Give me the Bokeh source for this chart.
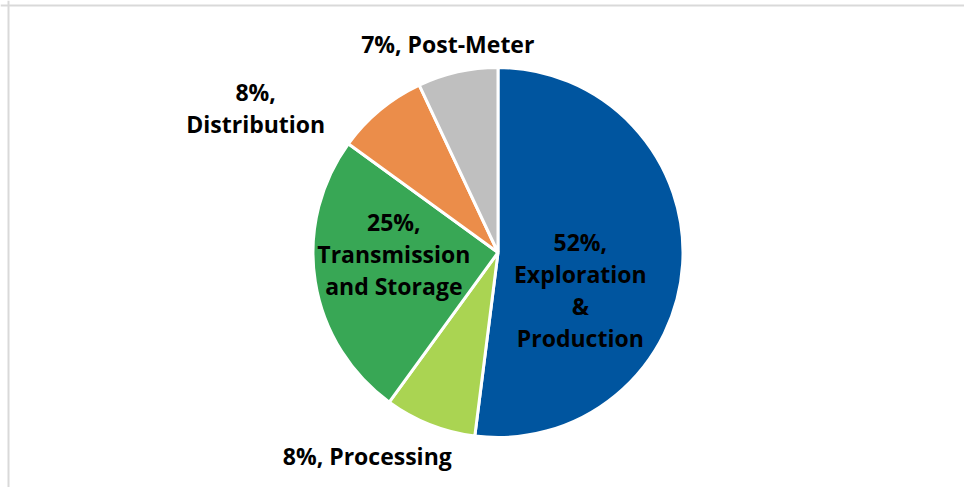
import math
from bokeh.plotting import figure
from bokeh.models import ColumnDataSource, Range1d, Span
from bokeh.core.properties import value
from bokeh.embed import file_html
from bokeh.resources import INLINE

# ---- data ----
categories = ["Exploration & Production", "Processing", "Transmission and Storage", "Distribution", "Post-Meter"]
shares = [52, 8, 25, 8, 7]
label_texts = ["52%,\nExploration\n&\nProduction", "8%, Processing", "25%,\nTransmission\nand Storage",
               "8%,\nDistribution", "7%, Post-Meter"]
colors = ["#00559F", "#AAD452", "#38A755", "#EB8D4A", "#BFBFBF"]

# ---- layout (pixel-like data units) ----
W, H = 964, 487
CX, CY, R = 497.5, 235.0, 185.0
# label anchor: radius factor along mid-angle, plus pixel nudges (x right, y down)
label_k = [0.5, 1.2, 0.57, 1.3, 1.12]
label_nudge = [(-10, 32), (-49, -3), (0, -15), (-89, 41), (-5, -6)]

total = float(sum(shares))
starts, ends, lx, ly, xo, yo = [], [], [], [], [], []
cum = 0.0
for i, s in enumerate(shares):
    a0 = math.pi / 2 - 2 * math.pi * cum / total
    cum += s
    a1 = math.pi / 2 - 2 * math.pi * cum / total
    starts.append(a0)
    ends.append(a1)
    mid = (a0 + a1) / 2
    lx.append(CX + label_k[i] * R * math.cos(mid))
    ly.append(CY + label_k[i] * R * math.sin(mid))
    xo.append(label_nudge[i][0])
    yo.append(label_nudge[i][1])

src = ColumnDataSource(dict(start=starts, end=ends, color=colors, cat=categories))
lsrc = ColumnDataSource(dict(x=lx, y=ly, text=label_texts, xo=xo, yo=yo))

p = figure(width=W, height=H, output_backend="svg", toolbar_location=None,
           x_range=Range1d(0, W), y_range=Range1d(0, H), min_border=0,
           match_aspect=False)
p.axis.visible = False
p.grid.visible = False
p.outline_line_color = None
p.background_fill_color = "white"
p.border_fill_color = "white"

p.wedge(x=CX, y=CY, radius=R, start_angle="start", end_angle="end", direction="clock",
        fill_color="color", line_color="white", line_width=3, source=src)

p.text(x="x", y="y", text="text", x_offset="xo", y_offset="yo", source=lsrc,
       text_font=value("Open Sans"), text_font_style="bold", text_font_size="23px",
       text_color="black", text_align="center", text_baseline="middle",
       text_line_height=1.0)

# chart border (top and left visible)
p.add_layout(Span(location=H - 5, dimension="width", line_color="#D9D9D9", line_width=2))
p.add_layout(Span(location=8, dimension="height", line_color="#D9D9D9", line_width=2))

open("out.html", "w").write(file_html(p, INLINE))
